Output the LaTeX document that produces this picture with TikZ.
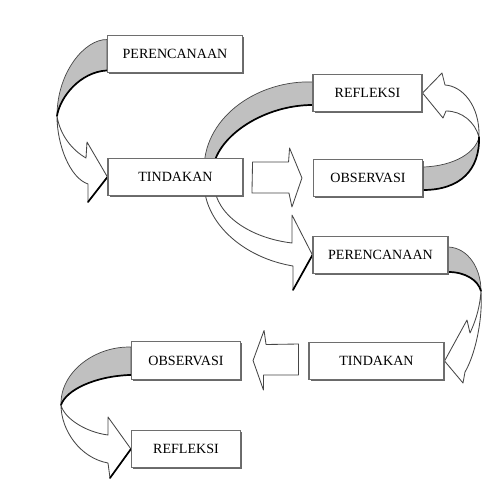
\documentclass[tikz,border=0pt]{standalone}
\usepackage{fontspec}
\setmainfont{Liberation Serif}
\usetikzlibrary{calc,backgrounds,shadows}
\definecolor{BandGray}{RGB}{192,192,192}
\definecolor{EdgeGray}{RGB}{70,70,70}
\definecolor{BoxGray}{RGB}{110,110,110}
\tikzset{
  phase/.style={draw=BoxGray, fill=white, line width=0.9pt, inner sep=0pt,
    minimum width=2.72cm, minimum height=0.94cm,
    font=\fontsize{10}{12}\selectfont, text=black,
    drop shadow={shadow xshift=1.1pt, shadow yshift=-1.1pt, fill=black!65, opacity=0.9}},
  widephase/.style={phase, minimum width=3.37cm},
  backband/.style={fill=BandGray, draw=EdgeGray, line width=0.5pt, line join=round},
  frontband/.style={fill=white, draw=EdgeGray, line width=0.6pt, line join=round},
  rim/.style={draw=black, line width=1.2pt, line cap=round}
}

\begin{document}
\begin{tikzpicture}[x=0.025cm, y=-0.025cm]
  \useasboundingbox (0,0) rectangle (482,482);

  \node[widephase] (per1) at (175,54) {PERENCANAAN};
  \node[widephase] (tin1) at (175.5,177) {TINDAKAN};
  \node[phase] (ref1) at (367.5,93) {REFLEKSI};
  \node[phase] (obs1) at (368,178) {OBSERVASI};
  \node[widephase] (per2) at (380.5,255) {PERENCANAAN};
  \node[widephase] (tin2) at (376.5,361) {TINDAKAN};
  \node[phase] (obs2) at (186,360.5) {OBSERVASI};
  \node[phase] (ref2) at (186,449) {REFLEKSI};

  \begin{scope}[on background layer]
    \filldraw[backband] ($(per1.north west)+(0,5)$) .. controls (85,39) and (57,72) .. (57,116)
      .. controls (60,97) and (80,72) .. ($(per1.south west)+(0,-3)$) -- cycle;
    \draw[rim] (57,116) .. controls (60,97) and (80,72) .. ($(per1.south west)+(0,-3)$);
    \filldraw[frontband] (57,116) .. controls (57,145) and (70,178) .. (88,184) -- (88,202)
      -- (tin1.west) -- (87,142) -- (86,158) .. controls (72,150) and (60,135) .. (57,116) -- cycle;
    \draw[rim] (tin1.west) -- (88,202);

    \filldraw[backband] ($(ref1.west)+(0,-11)$) .. controls (260,80) and (205,115) .. (204,168)
      -- (213,168) .. controls (218,135) and (265,105) .. ($(ref1.west)+(0,12)$) -- cycle;
    \draw[rim] (213,168) .. controls (218,135) and (265,105) .. ($(ref1.west)+(0,12)$);
    \filldraw[frontband] (204,185) .. controls (206,225) and (245,258) .. (293,266) -- (293,290)
      -- (per2.west) -- (292,215) -- (292,243) .. controls (250,238) and (216,215) .. (214,185) -- cycle;
    \draw[rim] (per2.west) -- (293,290);

    \filldraw[backband] ($(obs1.east)+(0,12)$) .. controls (460,190) and (480,170) .. (479,137)
      .. controls (476,152) and (455,166) .. ($(obs1.east)+(0,-11)$) -- cycle;
    \draw[rim] ($(obs1.east)+(0,12)$) .. controls (460,190) and (480,170) .. (479,137);
    \filldraw[frontband] (479,137) .. controls (480,105) and (462,86) .. (445,85) -- (442,73)
      -- (ref1.east) -- (443,118) -- (446,111) .. controls (462,111) and (475,122) .. (479,137) -- cycle;

    \filldraw[backband] ($(per2.east)+(0,-8)$) .. controls (468,248) and (481,268) .. (481,291)
      .. controls (478,280) and (465,272) .. ($(per2.east)+(0,17)$) -- cycle;
    \draw[rim] (481,291) .. controls (478,280) and (465,272) .. ($(per2.east)+(0,17)$);
    \filldraw[frontband] (481,291) .. controls (483,320) and (475,355) .. (465,372) -- (463,383)
      -- (tin2.east) -- (467,320) -- (470,333) .. controls (477,318) and (480,305) .. (481,291) -- cycle;

    \filldraw[backband] ($(obs2.north west)+(0,6)$) .. controls (95,346) and (60,372) .. (61,405)
      .. controls (66,390) and (95,376) .. ($(obs2.south west)+(0,-5)$) -- cycle;
    \draw[rim] (61,405) .. controls (66,390) and (95,376) .. ($(obs2.south west)+(0,-5)$);
    \filldraw[frontband] (61,405) .. controls (61,430) and (80,458) .. (108,463) -- (110,478)
      -- (ref2.west) -- (108,417) -- (108,435) .. controls (85,432) and (64,418) .. (61,405) -- cycle;
    \draw[rim] (ref2.west) -- (110,478);

    \filldraw[frontband] ($(tin1.east)+(9,-15)$) -- ++(36,0) -- ++(1,-14) -- ($(obs1.west)+(-11,0)$)
      -- ++(-10,29) -- ++(-3,-14) -- ++(-37,0) -- cycle;
    \filldraw[frontband] ($(tin2.west)+(-10,-17)$) -- ++(0,31) -- ++(-35,0) -- ++(0,15)
      -- ($(obs2.east)+(12,0)$) -- ++(11,-30) -- ++(2,14) -- cycle;
  \end{scope}
\end{tikzpicture}
\end{document}
